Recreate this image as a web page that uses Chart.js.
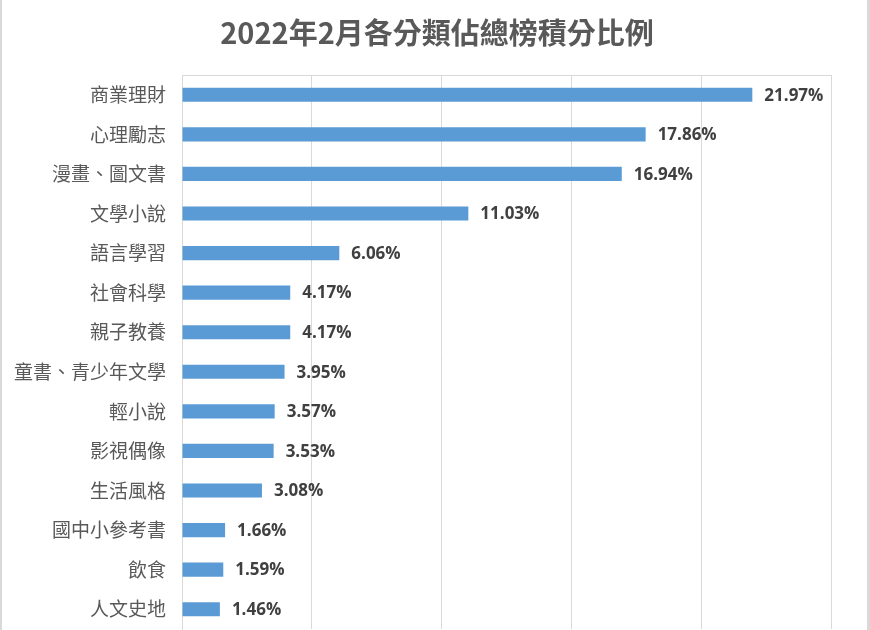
<!DOCTYPE html>
<html lang="zh-Hant">
  <head>
    <meta charset="UTF-8" />
    <title>2022年2月各分類佔總榜積分比例</title>
    <script src="https://cdn.jsdelivr.net/npm/chart.js"></script>
    <style>
      * {
        margin: 0;
        padding: 0;
        box-sizing: border-box;
      }
      body {
        background: #fff;
        width: 870px;
        height: 630px;
        overflow: hidden;
      }
      .frame {
        position: relative;
        width: 870px;
        height: 630px;
        border-left: 2px solid #d9d9d9;
        border-right: 3px solid #d9d9d9;
      }
      canvas {
        position: absolute;
        left: -2px;
        top: 0;
      }
    </style>
  </head>
  <body>
    <div class="frame">
      <canvas id="chart" width="870" height="630"></canvas>
    </div>

    <script>
      const chartTitle = "2022年2月各分類佔總榜積分比例";
      const categories = [
        "商業理財",
        "心理勵志",
        "漫畫、圖文書",
        "文學小說",
        "語言學習",
        "社會科學",
        "親子教養",
        "童書、青少年文學",
        "輕小說",
        "影視偶像",
        "生活風格",
        "國中小參考書",
        "飲食",
        "人文史地",
      ];
      const shares = [
        21.97, 17.86, 16.94, 11.03, 6.06, 4.17, 4.17, 3.95, 3.57, 3.53, 3.08,
        1.66, 1.59, 1.46,
      ];
      const xTicks = [0, 5, 10, 15, 20, 25];

      // title centred on the whole canvas (not on the padded box)
      const pageTitle = {
        id: "pageTitle",
        afterDraw(chart) {
          const ctx = chart.ctx;
          ctx.save();
          ctx.font = "bold 29px 'Noto Sans CJK TC', sans-serif";
          ctx.fillStyle = "#595959";
          ctx.textAlign = "center";
          ctx.textBaseline = "middle";
          ctx.fillText(chartTitle, chart.width / 2 + 2, 33);
          ctx.restore();
        },
      };

      // value labels at the end of each bar
      const barLabels = {
        id: "barLabels",
        afterDatasetsDraw(chart) {
          const ctx = chart.ctx;
          const meta = chart.getDatasetMeta(0);
          ctx.save();
          ctx.font = "bold 17px 'Open Sans', sans-serif";
          ctx.fillStyle = "#404040";
          ctx.textAlign = "left";
          ctx.textBaseline = "middle";
          meta.data.forEach((bar, i) => {
            ctx.fillText(shares[i].toFixed(2) + "%", bar.x + 12, bar.y + 1);
          });
          ctx.restore();
        },
      };

      const ctx = document.getElementById("chart").getContext("2d");
      new Chart(ctx, {
        type: "bar",
        data: {
          labels: categories,
          datasets: [
            {
              data: shares,
              backgroundColor: "#5b9bd5",
              barPercentage: 0.7,
              categoryPercentage: 0.51,
            },
          ],
        },
        options: {
          indexAxis: "y",
          responsive: false,
          animation: false,
          layout: { padding: { left: 0, right: 39, top: 75, bottom: 1 } },
          plugins: {
            legend: { display: false },
            tooltip: { enabled: false },
            title: { display: false },
          },
          scales: {
            x: {
              position: "top",
              min: 0,
              max: 25,
              afterBuildTicks: (scale) => {
                scale.ticks = xTicks.map((v) => ({ value: v }));
              },
              ticks: { display: false },
              grid: { color: "#d9d9d9", drawTicks: false, lineWidth: 1 },
              border: { color: "#d9d9d9" },
            },
            y: {
              afterFit: (scale) => {
                scale.width = 182;
                scale.paddingTop = 0;
                scale.paddingBottom = 0;
              },
              grid: { display: false, drawTicks: false },
              border: { color: "#d9d9d9" },
              ticks: {
                color: "#595959",
                padding: 16,
                font: {
                  family: "'Noto Sans CJK TC', sans-serif",
                  size: 19,
                },
              },
            },
          },
        },
        plugins: [barLabels, pageTitle],
      });
    </script>
  </body>
</html>
